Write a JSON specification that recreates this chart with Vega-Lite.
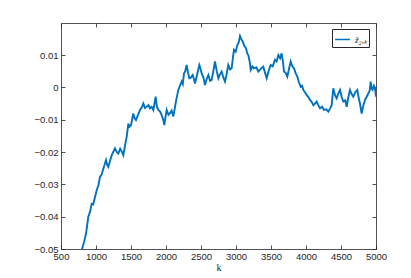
{
  "$schema": "https://vega.github.io/schema/vega-lite/v6.json",
  "width": 315,
  "height": 226,
  "autosize": "none",
  "padding": {"left": 61, "top": 23, "right": 35, "bottom": 29},
  "background": "white",
  "config": {
    "view": {"stroke": null},
    "axis": {
      "domainColor": "#262626",
      "domainWidth": 0.8,
      "tickColor": "#262626",
      "tickWidth": 0.8,
      "tickSize": -4,
      "grid": false,
      "labelFlush": false,
      "labelOverlap": false,
      "labelFont": "Liberation Sans",
      "labelFontSize": 9.5,
      "labelColor": "#262626",
      "titleFont": "Liberation Serif",
      "titleFontWeight": "normal",
      "titleFontSize": 10,
      "titleColor": "#262626"
    }
  },
  "data": {
    "values": [
      {"k": 795, "v": -0.0505},
      {"k": 830, "v": -0.0478},
      {"k": 857, "v": -0.0453},
      {"k": 875, "v": -0.0425},
      {"k": 890, "v": -0.0400},
      {"k": 915, "v": -0.0385},
      {"k": 938, "v": -0.0360},
      {"k": 960, "v": -0.0362},
      {"k": 986, "v": -0.0339},
      {"k": 1010, "v": -0.0318},
      {"k": 1035, "v": -0.0302},
      {"k": 1057, "v": -0.0277},
      {"k": 1080, "v": -0.0270},
      {"k": 1105, "v": -0.0251},
      {"k": 1125, "v": -0.0238},
      {"k": 1143, "v": -0.0225},
      {"k": 1160, "v": -0.0240},
      {"k": 1176, "v": -0.0246},
      {"k": 1200, "v": -0.0228},
      {"k": 1224, "v": -0.0210},
      {"k": 1250, "v": -0.0198},
      {"k": 1271, "v": -0.0189},
      {"k": 1295, "v": -0.0200},
      {"k": 1319, "v": -0.0205},
      {"k": 1345, "v": -0.0190},
      {"k": 1367, "v": -0.0198},
      {"k": 1390, "v": -0.0210},
      {"k": 1415, "v": -0.0180},
      {"k": 1438, "v": -0.0153},
      {"k": 1462, "v": -0.0112},
      {"k": 1480, "v": -0.0122},
      {"k": 1500, "v": -0.0117},
      {"k": 1533, "v": -0.0081},
      {"k": 1550, "v": -0.0095},
      {"k": 1571, "v": -0.0101},
      {"k": 1600, "v": -0.0085},
      {"k": 1629, "v": -0.0070},
      {"k": 1655, "v": -0.0062},
      {"k": 1676, "v": -0.0050},
      {"k": 1700, "v": -0.0064},
      {"k": 1724, "v": -0.0060},
      {"k": 1750, "v": -0.0055},
      {"k": 1771, "v": -0.0065},
      {"k": 1795, "v": -0.0060},
      {"k": 1819, "v": -0.0070},
      {"k": 1852, "v": -0.0029},
      {"k": 1870, "v": -0.0060},
      {"k": 1890, "v": -0.0070},
      {"k": 1915, "v": -0.0075},
      {"k": 1938, "v": -0.0086},
      {"k": 1960, "v": -0.0100},
      {"k": 1976, "v": -0.0117},
      {"k": 1990, "v": -0.0095},
      {"k": 2010, "v": -0.0070},
      {"k": 2035, "v": -0.0085},
      {"k": 2057, "v": -0.0080},
      {"k": 2080, "v": -0.0072},
      {"k": 2105, "v": -0.0090},
      {"k": 2129, "v": -0.0060},
      {"k": 2150, "v": -0.0035},
      {"k": 2176, "v": -0.0008},
      {"k": 2200, "v": 0.0005},
      {"k": 2224, "v": 0.0018},
      {"k": 2240, "v": 0.0010},
      {"k": 2257, "v": 0.0043},
      {"k": 2275, "v": 0.0050},
      {"k": 2295, "v": 0.0069},
      {"k": 2315, "v": 0.0045},
      {"k": 2333, "v": 0.0028},
      {"k": 2355, "v": 0.0030},
      {"k": 2381, "v": 0.0038},
      {"k": 2400, "v": 0.0025},
      {"k": 2414, "v": 0.0012},
      {"k": 2445, "v": 0.0040},
      {"k": 2476, "v": 0.0069},
      {"k": 2490, "v": 0.0060},
      {"k": 2510, "v": 0.0043},
      {"k": 2535, "v": 0.0030},
      {"k": 2557, "v": 0.0007},
      {"k": 2580, "v": 0.0025},
      {"k": 2605, "v": 0.0038},
      {"k": 2630, "v": 0.0020},
      {"k": 2652, "v": 0.0023},
      {"k": 2680, "v": 0.0055},
      {"k": 2700, "v": 0.0080},
      {"k": 2725, "v": 0.0050},
      {"k": 2748, "v": 0.0028},
      {"k": 2770, "v": 0.0040},
      {"k": 2795, "v": 0.0049},
      {"k": 2820, "v": 0.0030},
      {"k": 2843, "v": 0.0018},
      {"k": 2865, "v": 0.0040},
      {"k": 2890, "v": 0.0069},
      {"k": 2915, "v": 0.0055},
      {"k": 2938, "v": 0.0059},
      {"k": 2955, "v": 0.0090},
      {"k": 2971, "v": 0.0116},
      {"k": 2995, "v": 0.0110},
      {"k": 3019, "v": 0.0131},
      {"k": 3040, "v": 0.0140},
      {"k": 3057, "v": 0.0159},
      {"k": 3075, "v": 0.0150},
      {"k": 3095, "v": 0.0142},
      {"k": 3120, "v": 0.0128},
      {"k": 3143, "v": 0.0121},
      {"k": 3160, "v": 0.0105},
      {"k": 3176, "v": 0.0100},
      {"k": 3195, "v": 0.0080},
      {"k": 3210, "v": 0.0054},
      {"k": 3235, "v": 0.0065},
      {"k": 3257, "v": 0.0059},
      {"k": 3290, "v": 0.0062},
      {"k": 3319, "v": 0.0049},
      {"k": 3355, "v": 0.0058},
      {"k": 3390, "v": 0.0064},
      {"k": 3415, "v": 0.0045},
      {"k": 3438, "v": 0.0028},
      {"k": 3465, "v": 0.0050},
      {"k": 3495, "v": 0.0069},
      {"k": 3525, "v": 0.0065},
      {"k": 3557, "v": 0.0085},
      {"k": 3580, "v": 0.0080},
      {"k": 3605, "v": 0.0100},
      {"k": 3630, "v": 0.0090},
      {"k": 3652, "v": 0.0105},
      {"k": 3670, "v": 0.0080},
      {"k": 3686, "v": 0.0049},
      {"k": 3710, "v": 0.0045},
      {"k": 3733, "v": 0.0033},
      {"k": 3760, "v": 0.0060},
      {"k": 3781, "v": 0.0080},
      {"k": 3805, "v": 0.0065},
      {"k": 3829, "v": 0.0059},
      {"k": 3850, "v": 0.0045},
      {"k": 3876, "v": 0.0033},
      {"k": 3900, "v": 0.0015},
      {"k": 3924, "v": 0.0002},
      {"k": 3945, "v": 0.0005},
      {"k": 3962, "v": -0.0008},
      {"k": 3985, "v": -0.0015},
      {"k": 4010, "v": -0.0024},
      {"k": 4035, "v": -0.0030},
      {"k": 4057, "v": -0.0039},
      {"k": 4080, "v": -0.0045},
      {"k": 4105, "v": -0.0055},
      {"k": 4130, "v": -0.0050},
      {"k": 4152, "v": -0.0044},
      {"k": 4175, "v": -0.0055},
      {"k": 4200, "v": -0.0065},
      {"k": 4230, "v": -0.0060},
      {"k": 4257, "v": -0.0070},
      {"k": 4290, "v": -0.0068},
      {"k": 4319, "v": -0.0075},
      {"k": 4345, "v": -0.0065},
      {"k": 4367, "v": -0.0055},
      {"k": 4380, "v": -0.0025},
      {"k": 4390, "v": -0.0003},
      {"k": 4415, "v": -0.0025},
      {"k": 4438, "v": -0.0034},
      {"k": 4460, "v": -0.0020},
      {"k": 4486, "v": -0.0008},
      {"k": 4510, "v": -0.0030},
      {"k": 4533, "v": -0.0044},
      {"k": 4560, "v": -0.0040},
      {"k": 4581, "v": -0.0060},
      {"k": 4605, "v": -0.0030},
      {"k": 4629, "v": -0.0008},
      {"k": 4650, "v": -0.0020},
      {"k": 4676, "v": -0.0029},
      {"k": 4705, "v": -0.0015},
      {"k": 4733, "v": -0.0008},
      {"k": 4750, "v": -0.0030},
      {"k": 4771, "v": -0.0050},
      {"k": 4795, "v": -0.0081},
      {"k": 4820, "v": -0.0055},
      {"k": 4843, "v": -0.0039},
      {"k": 4865, "v": -0.0030},
      {"k": 4890, "v": -0.0019},
      {"k": 4910, "v": -0.0010},
      {"k": 4924, "v": 0.0018},
      {"k": 4940, "v": -0.0005},
      {"k": 4952, "v": -0.0008},
      {"k": 4970, "v": 0.0005},
      {"k": 4986, "v": -0.0003},
      {"k": 5000, "v": -0.0029}
    ]
  },
  "layer": [
    {
      "mark": {"type": "line", "strokeWidth": 1.9, "clip": true},
      "encoding": {
        "x": {
          "field": "k", "type": "quantitative",
          "scale": {"domain": [500, 5000], "nice": false, "zero": false},
          "axis": {"values": [500,1000,1500,2000,2500,3000,3500,4000,4500,5000], "format": "d", "title": "k", "labelPadding": 6, "titlePadding": 2, "orient": "bottom"}
        },
        "y": {
          "field": "v", "type": "quantitative",
          "scale": {"domain": [-0.05, 0.0199], "nice": false, "zero": false},
          "axis": {"values": [-0.05,-0.04,-0.03,-0.02,-0.01,0,0.01], "format": "~g", "title": null, "labelPadding": 7, "orient": "left"}
        },
        "color": {
          "datum": "z̃₂,ₖ",
          "scale": {"range": ["#0072BD"]},
          "legend": {
            "title": null,
            "orient": "none",
            "legendX": 271,
            "legendY": 6,
            "padding": 2,
            "strokeColor": "#262626",
            "fillColor": "white",
            "symbolType": "stroke",
            "symbolSize": 220,
            "symbolStrokeWidth": 1.5,
            "labelFont": "Liberation Serif",
            "labelFontStyle": "italic",
            "labelFontSize": 9,
            "labelColor": "#262626"
          }
        }
      }
    },
    {
      "mark": {"type": "line", "opacity": 0},
      "encoding": {
        "x": {
          "field": "k", "type": "quantitative",
          "scale": {"domain": [500, 5000], "nice": false, "zero": false},
          "axis": {"values": [500,1000,1500,2000,2500,3000,3500,4000,4500,5000], "labels": false, "title": null, "orient": "top"}
        },
        "y": {
          "field": "v", "type": "quantitative",
          "scale": {"domain": [-0.05, 0.0199], "nice": false, "zero": false},
          "axis": {"values": [-0.05,-0.04,-0.03,-0.02,-0.01,0,0.01], "labels": false, "title": null, "orient": "right"}
        }
      }
    }
  ],
  "resolve": {"axis": {"x": "independent", "y": "independent"}}
}
